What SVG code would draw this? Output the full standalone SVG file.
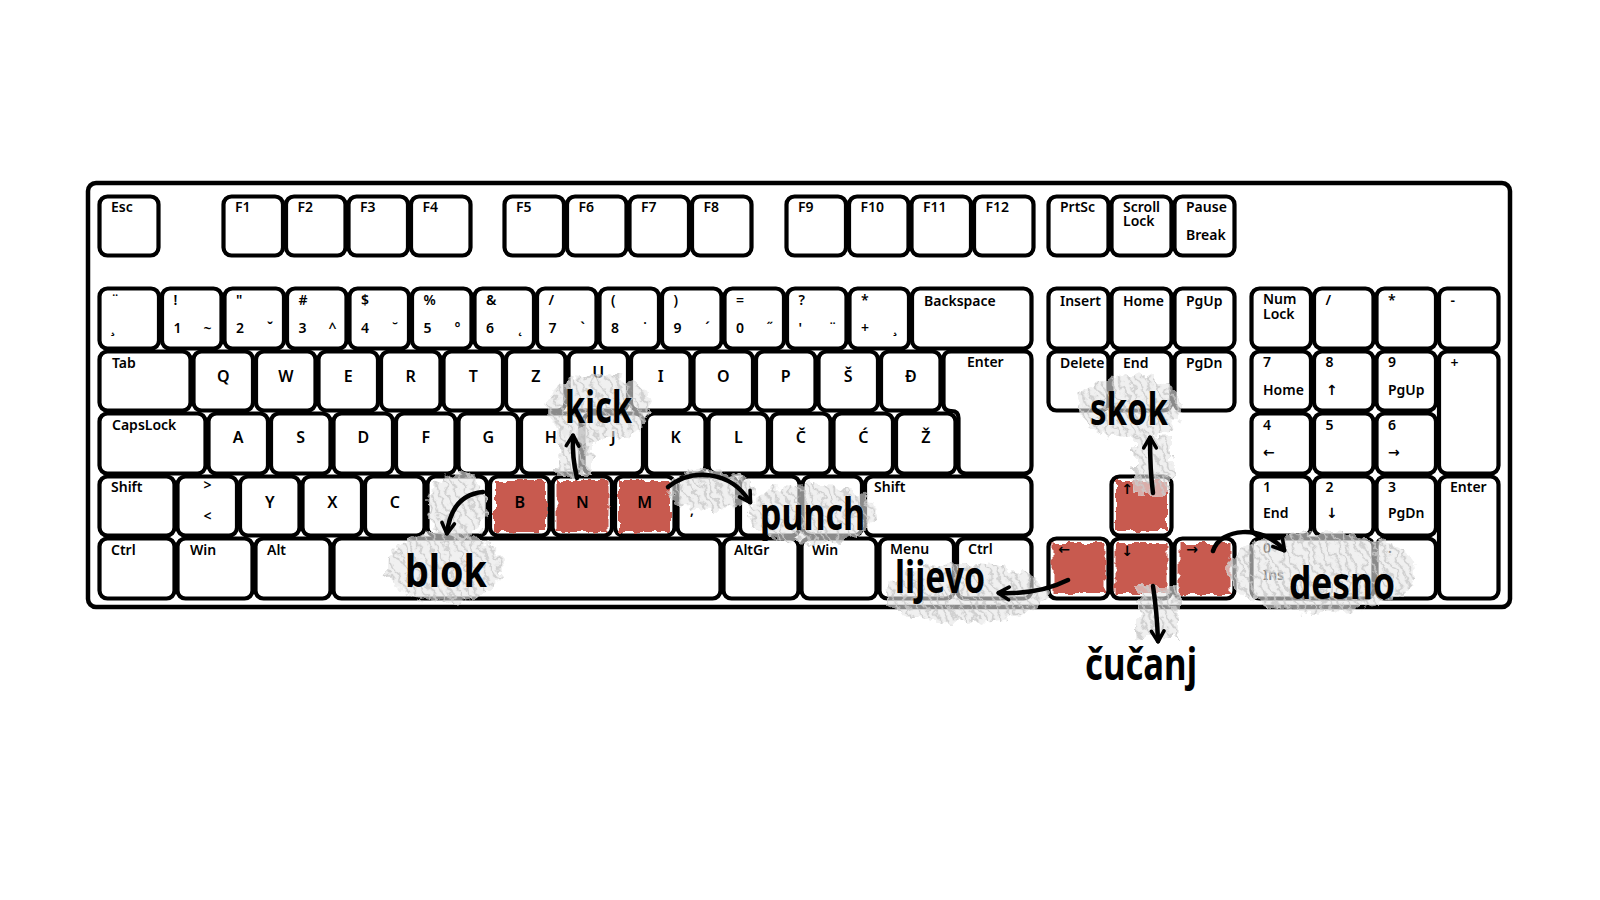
<svg xmlns="http://www.w3.org/2000/svg" width="1600" height="900" viewBox="0 0 1600 900">
<style>
.key{fill:#fff;stroke:#000;stroke-width:4.2;stroke-linejoin:round}
.frame{fill:#fff;stroke:#000;stroke-width:4.5}
.t{font-family:"Noto Sans","DejaVu Sans",sans-serif;font-size:14px;font-weight:600;fill:#000}
.c{text-anchor:middle;font-size:16px}
.m{text-anchor:middle}
.a{font-family:"Noto Sans","DejaVu Sans",sans-serif;font-size:44px;font-weight:700;fill:#000}
.red{fill:#c85a50;filter:url(#rr)}
.hatch{fill:url(#hp);filter:url(#rh)}
.arr{fill:none;stroke:#000;stroke-width:4.5;stroke-linecap:round;marker-end:url(#ah)}
</style>
<defs>
<pattern id="hp" width="8" height="8" patternUnits="userSpaceOnUse" patternTransform="rotate(65)">
<rect width="8" height="8" fill="#e6e6e6" opacity="0.6"/>
<line x1="0" y1="2" x2="8" y2="2" stroke="#c9c9c9" stroke-width="2.5" opacity="0.8"/>
</pattern>
<filter id="rr" x="-20%" y="-20%" width="140%" height="140%">
<feTurbulence type="fractalNoise" baseFrequency="0.12" numOctaves="2" seed="4" result="n"/>
<feDisplacementMap in="SourceGraphic" in2="n" scale="8" xChannelSelector="R" yChannelSelector="G"/>
</filter>
<filter id="rh" x="-20%" y="-20%" width="140%" height="140%">
<feTurbulence type="fractalNoise" baseFrequency="0.09" numOctaves="3" seed="7" result="n"/>
<feDisplacementMap in="SourceGraphic" in2="n" scale="16" xChannelSelector="R" yChannelSelector="G"/>
</filter>
<marker id="ah" viewBox="0 0 20 20" refX="14" refY="10" markerWidth="18" markerHeight="18" markerUnits="userSpaceOnUse" orient="auto">
<path d="M3,3 L15,10 L3,17" fill="none" stroke="#000" stroke-width="4" stroke-linecap="round" stroke-linejoin="round"/>
</marker>
</defs>
<rect width="1600" height="900" fill="#fff"/>
<g id="board"><rect class="frame" x="88" y="183" width="1422" height="424" rx="8"/></g>

<g id="frow">
<g id="k-esc"><rect class="key" x="99.5" y="196.5" width="59" height="59" rx="8"/><text class="t" x="111" y="212">Esc</text></g>
<g id="k-f1"><rect class="key" x="223.5" y="196.5" width="59.5" height="59" rx="8"/><text class="t" x="235" y="212">F1</text></g>
<g id="k-f2"><rect class="key" x="286" y="196.5" width="59.5" height="59" rx="8"/><text class="t" x="297.5" y="212">F2</text></g>
<g id="k-f3"><rect class="key" x="348.5" y="196.5" width="59.5" height="59" rx="8"/><text class="t" x="360" y="212">F3</text></g>
<g id="k-f4"><rect class="key" x="411" y="196.5" width="59.5" height="59" rx="8"/><text class="t" x="422.5" y="212">F4</text></g>
<g id="k-f5"><rect class="key" x="504.5" y="196.5" width="59.5" height="59" rx="8"/><text class="t" x="516" y="212">F5</text></g>
<g id="k-f6"><rect class="key" x="567" y="196.5" width="59.5" height="59" rx="8"/><text class="t" x="578.5" y="212">F6</text></g>
<g id="k-f7"><rect class="key" x="629.5" y="196.5" width="59.5" height="59" rx="8"/><text class="t" x="641" y="212">F7</text></g>
<g id="k-f8"><rect class="key" x="692" y="196.5" width="59.5" height="59" rx="8"/><text class="t" x="703.5" y="212">F8</text></g>
<g id="k-f9"><rect class="key" x="786.5" y="196.5" width="59.5" height="59" rx="8"/><text class="t" x="798" y="212">F9</text></g>
<g id="k-f10"><rect class="key" x="849" y="196.5" width="59.5" height="59" rx="8"/><text class="t" x="860.5" y="212">F10</text></g>
<g id="k-f11"><rect class="key" x="911.5" y="196.5" width="59.5" height="59" rx="8"/><text class="t" x="923" y="212">F11</text></g>
<g id="k-f12"><rect class="key" x="974" y="196.5" width="59.5" height="59" rx="8"/><text class="t" x="985.5" y="212">F12</text></g>
<g id="k-prtsc"><rect class="key" x="1048.5" y="196.5" width="60" height="59" rx="8"/><text class="t" x="1060" y="212">PrtSc</text></g>
<g id="k-scroll"><rect class="key" x="1111.5" y="196.5" width="60" height="59" rx="8"/><text class="t" x="1123" y="212">Scroll</text><text class="t" x="1123" y="226">Lock</text></g>
<g id="k-pause"><rect class="key" x="1174.5" y="196.5" width="60" height="59" rx="8"/><text class="t" x="1186" y="212">Pause</text><text class="t" x="1186" y="240">Break</text></g>
</g>

<g id="numrow">
<g id="k-grave"><rect class="key" x="99.5" y="288.5" width="59.5" height="60" rx="8"/><text class="t" x="111" y="305">¨</text><text class="t" x="111" y="333">¸</text></g>
<g id="k-1"><rect class="key" x="162" y="288.5" width="59.5" height="60" rx="8"/><text class="t" x="173.5" y="305">!</text><text class="t" x="173.5" y="333">1</text><text class="t m" x="207.5" y="333">~</text></g>
<g id="k-2"><rect class="key" x="224.5" y="288.5" width="59.5" height="60" rx="8"/><text class="t" x="236" y="305">"</text><text class="t" x="236" y="333">2</text><text class="t m" x="270" y="333">ˇ</text></g>
<g id="k-3"><rect class="key" x="287" y="288.5" width="59.5" height="60" rx="8"/><text class="t" x="298.5" y="305">#</text><text class="t" x="298.5" y="333">3</text><text class="t m" x="332.5" y="333">^</text></g>
<g id="k-4"><rect class="key" x="349.5" y="288.5" width="59.5" height="60" rx="8"/><text class="t" x="361" y="305">$</text><text class="t" x="361" y="333">4</text><text class="t m" x="395" y="333">˘</text></g>
<g id="k-5"><rect class="key" x="412" y="288.5" width="59.5" height="60" rx="8"/><text class="t" x="423.5" y="305">%</text><text class="t" x="423.5" y="333">5</text><text class="t m" x="457.5" y="333">°</text></g>
<g id="k-6"><rect class="key" x="474.5" y="288.5" width="59.5" height="60" rx="8"/><text class="t" x="486" y="305">&amp;</text><text class="t" x="486" y="333">6</text><text class="t m" x="520" y="333">˛</text></g>
<g id="k-7"><rect class="key" x="537" y="288.5" width="59.5" height="60" rx="8"/><text class="t" x="548.5" y="305">/</text><text class="t" x="548.5" y="333">7</text><text class="t m" x="582.5" y="333">`</text></g>
<g id="k-8"><rect class="key" x="599.5" y="288.5" width="59.5" height="60" rx="8"/><text class="t" x="611" y="305">(</text><text class="t" x="611" y="333">8</text><text class="t m" x="645" y="333">˙</text></g>
<g id="k-9"><rect class="key" x="662" y="288.5" width="59.5" height="60" rx="8"/><text class="t" x="673.5" y="305">)</text><text class="t" x="673.5" y="333">9</text><text class="t m" x="707.5" y="333">´</text></g>
<g id="k-0"><rect class="key" x="724.5" y="288.5" width="59.5" height="60" rx="8"/><text class="t" x="736" y="305">=</text><text class="t" x="736" y="333">0</text><text class="t m" x="770" y="333">˝</text></g>
<g id="k-apos"><rect class="key" x="787" y="288.5" width="59.5" height="60" rx="8"/><text class="t" x="798.5" y="305">?</text><text class="t" x="798.5" y="333">'</text><text class="t m" x="832.5" y="333">¨</text></g>
<g id="k-plus"><rect class="key" x="849.5" y="288.5" width="59.5" height="60" rx="8"/><text class="t" x="861" y="305">*</text><text class="t" x="861" y="333">+</text><text class="t m" x="895" y="333">¸</text></g>
<g id="k-bksp"><rect class="key" x="912" y="288.5" width="119.5" height="60" rx="8"/><text class="t" x="924" y="306">Backspace</text></g>
</g>

<g id="tabrow">
<g id="k-tab"><rect class="key" x="99.5" y="351.5" width="91" height="59" rx="8"/><text class="t" x="112" y="368">Tab</text></g>
<g id="k-q"><rect class="key" x="193.5" y="351.5" width="59.5" height="59" rx="8"/><text class="t c" x="223.25" y="382">Q</text></g>
<g id="k-w"><rect class="key" x="256" y="351.5" width="59.5" height="59" rx="8"/><text class="t c" x="285.75" y="382">W</text></g>
<g id="k-e"><rect class="key" x="318.5" y="351.5" width="59.5" height="59" rx="8"/><text class="t c" x="348.25" y="382">E</text></g>
<g id="k-r"><rect class="key" x="381" y="351.5" width="59.5" height="59" rx="8"/><text class="t c" x="410.75" y="382">R</text></g>
<g id="k-t"><rect class="key" x="443.5" y="351.5" width="59.5" height="59" rx="8"/><text class="t c" x="473.25" y="382">T</text></g>
<g id="k-z"><rect class="key" x="506" y="351.5" width="59.5" height="59" rx="8"/><text class="t c" x="535.75" y="382">Z</text></g>
<g id="k-u"><rect class="key" x="568.5" y="351.5" width="59.5" height="59" rx="8"/><text class="t c" x="598.25" y="378">U</text></g>
<g id="k-i"><rect class="key" x="631" y="351.5" width="59.5" height="59" rx="8"/><text class="t c" x="660.75" y="382">I</text></g>
<g id="k-o"><rect class="key" x="693.5" y="351.5" width="59.5" height="59" rx="8"/><text class="t c" x="723.25" y="382">O</text></g>
<g id="k-p"><rect class="key" x="756" y="351.5" width="59.5" height="59" rx="8"/><text class="t c" x="785.75" y="382">P</text></g>
<g id="k-sh"><rect class="key" x="818.5" y="351.5" width="59.5" height="59" rx="8"/><text class="t c" x="848.25" y="382">Š</text></g>
<g id="k-dj"><rect class="key" x="881" y="351.5" width="59.5" height="59" rx="8"/><text class="t c" x="910.75" y="382">Đ</text></g>
<g id="k-enter"><path class="key" d="M951,351.5 H1024 Q1031.5,351.5 1031.5,359 V466 Q1031.5,473.5 1024,473.5 H966 Q958.5,473.5 958.5,466 V418 Q958.5,411 951.5,411 H951 Q943.5,411 943.5,403.5 V359 Q943.5,351.5 951,351.5 Z"/><text class="t" x="967" y="367">Enter</text></g>
</g>

<g id="capsrow">
<g id="k-caps"><rect class="key" x="99.5" y="413.5" width="106" height="60" rx="8"/><text class="t" x="112" y="430">CapsLock</text></g>
<g id="k-a"><rect class="key" x="208.5" y="413.5" width="59.5" height="60" rx="8"/><text class="t c" x="238.25" y="443">A</text></g>
<g id="k-s"><rect class="key" x="271" y="413.5" width="59.5" height="60" rx="8"/><text class="t c" x="300.75" y="443">S</text></g>
<g id="k-d"><rect class="key" x="333.5" y="413.5" width="59.5" height="60" rx="8"/><text class="t c" x="363.25" y="443">D</text></g>
<g id="k-f"><rect class="key" x="396" y="413.5" width="59.5" height="60" rx="8"/><text class="t c" x="425.75" y="443">F</text></g>
<g id="k-g"><rect class="key" x="458.5" y="413.5" width="59.5" height="60" rx="8"/><text class="t c" x="488.25" y="443">G</text></g>
<g id="k-h"><rect class="key" x="521" y="413.5" width="59.5" height="60" rx="8"/><text class="t c" x="550.75" y="443">H</text></g>
<g id="k-j"><rect class="key" x="583.5" y="413.5" width="59.5" height="60" rx="8"/><text class="t c" x="613.25" y="443">J</text></g>
<g id="k-k"><rect class="key" x="646" y="413.5" width="59.5" height="60" rx="8"/><text class="t c" x="675.75" y="443">K</text></g>
<g id="k-l"><rect class="key" x="708.5" y="413.5" width="59.5" height="60" rx="8"/><text class="t c" x="738.25" y="443">L</text></g>
<g id="k-ch"><rect class="key" x="771" y="413.5" width="59.5" height="60" rx="8"/><text class="t c" x="800.75" y="443">Č</text></g>
<g id="k-cj"><rect class="key" x="833.5" y="413.5" width="59.5" height="60" rx="8"/><text class="t c" x="863.25" y="443">Ć</text></g>
<g id="k-zh"><rect class="key" x="896" y="413.5" width="59.5" height="60" rx="8"/><text class="t c" x="925.75" y="443">Ž</text></g>
</g>

<g id="shiftrow">
<g id="k-lshift"><rect class="key" x="99.5" y="476.5" width="75" height="59" rx="8"/><text class="t" x="111" y="492">Shift</text></g>
<g id="k-lt"><rect class="key" x="177.5" y="476.5" width="59.5" height="59" rx="8"/><text class="t m" x="207.5" y="490">&gt;</text><text class="t m" x="207.5" y="521">&lt;</text></g>
<g id="k-y"><rect class="key" x="240" y="476.5" width="59.5" height="59" rx="8"/><text class="t c" x="269.75" y="508">Y</text></g>
<g id="k-x"><rect class="key" x="302.5" y="476.5" width="59.5" height="59" rx="8"/><text class="t c" x="332.25" y="508">X</text></g>
<g id="k-c"><rect class="key" x="365" y="476.5" width="59.5" height="59" rx="8"/><text class="t c" x="394.75" y="508">C</text></g>
<g id="k-v"><rect class="key" x="427.5" y="476.5" width="59.5" height="59" rx="8"/></g>
<g id="k-b"><rect class="key" x="490" y="476.5" width="59.5" height="59" rx="8"/><rect class="red" x="494" y="481" width="52" height="51"/><text class="t c" x="519.75" y="508">B</text></g>
<g id="k-n"><rect class="key" x="552.5" y="476.5" width="59.5" height="59" rx="8"/><rect class="red" x="556.5" y="481" width="52" height="51"/><text class="t c" x="582.25" y="508">N</text></g>
<g id="k-m"><rect class="key" x="615" y="476.5" width="59.5" height="59" rx="8"/><rect class="red" x="619" y="481" width="52" height="51"/><text class="t c" x="644.75" y="508">M</text></g>
<g id="k-comma"><rect class="key" x="677.5" y="476.5" width="59.5" height="59" rx="8"/><text class="t" x="690" y="515">,</text></g>
<g id="k-dot"><rect class="key" x="740" y="476.5" width="59.5" height="59" rx="8"/></g>
<g id="k-minus"><rect class="key" x="802.5" y="476.5" width="59.5" height="59" rx="8"/></g>
<g id="k-rshift"><rect class="key" x="865" y="476.5" width="166.5" height="59" rx="8"/><text class="t" x="874" y="492">Shift</text></g>
</g>

<g id="ctrlrow">
<g id="k-lctrl"><rect class="key" x="99.5" y="538.5" width="75" height="60" rx="8"/><text class="t" x="111" y="555">Ctrl</text></g>
<g id="k-lwin"><rect class="key" x="177.5" y="538.5" width="75" height="60" rx="8"/><text class="t" x="190" y="555">Win</text></g>
<g id="k-alt"><rect class="key" x="255.5" y="538.5" width="75" height="60" rx="8"/><text class="t" x="267" y="555">Alt</text></g>
<g id="k-space"><rect class="key" x="333.5" y="538.5" width="387" height="60" rx="8"/></g>
<g id="k-altgr"><rect class="key" x="723.5" y="538.5" width="75" height="60" rx="8"/><text class="t" x="734" y="555">AltGr</text></g>
<g id="k-rwin"><rect class="key" x="801.5" y="538.5" width="75" height="60" rx="8"/><text class="t" x="812" y="555">Win</text></g>
<g id="k-menu"><rect class="key" x="879.5" y="538.5" width="74.5" height="60" rx="8"/><text class="t" x="890" y="554">Menu</text></g>
<g id="k-rctrl"><rect class="key" x="957" y="538.5" width="74.5" height="60" rx="8"/><text class="t" x="968" y="554">Ctrl</text></g>
</g>

<g id="nav">
<g id="k-ins"><rect class="key" x="1048.5" y="288.5" width="60" height="60" rx="8"/><text class="t" x="1060" y="306">Insert</text></g>
<g id="k-home"><rect class="key" x="1111.5" y="288.5" width="60" height="60" rx="8"/><text class="t" x="1123" y="306">Home</text></g>
<g id="k-pgup"><rect class="key" x="1174.5" y="288.5" width="60" height="60" rx="8"/><text class="t" x="1186" y="306">PgUp</text></g>
<g id="k-del"><rect class="key" x="1048.5" y="351.5" width="60" height="59" rx="8"/><text class="t" x="1060" y="368">Delete</text></g>
<g id="k-end"><rect class="key" x="1111.5" y="351.5" width="60" height="59" rx="8"/><text class="t" x="1123" y="368">End</text></g>
<g id="k-pgdn"><rect class="key" x="1174.5" y="351.5" width="60" height="59" rx="8"/><text class="t" x="1186" y="368">PgDn</text></g>
<g id="k-up"><rect class="key" x="1111.5" y="476.5" width="60" height="59" rx="8"/><rect class="red" x="1116" y="481" width="51" height="50"/><text class="t m" x="1127" y="494">↑</text></g>
<g id="k-left"><rect class="key" x="1048.5" y="538.5" width="60" height="60" rx="8"/><rect class="red" x="1052.5" y="543" width="52" height="51"/><text class="t m" x="1064" y="554">←</text></g>
<g id="k-down"><rect class="key" x="1111.5" y="538.5" width="60" height="60" rx="8"/><rect class="red" x="1115.5" y="543" width="52" height="51"/><text class="t m" x="1127" y="556">↓</text></g>
<g id="k-right"><rect class="key" x="1174.5" y="538.5" width="60" height="60" rx="8"/><rect class="red" x="1178.5" y="543" width="52" height="51"/><text class="t m" x="1192" y="554">→</text></g>
</g>

<g id="numpad">
<g id="k-numlock"><rect class="key" x="1251.5" y="288.5" width="59.5" height="60" rx="8"/><text class="t" x="1263" y="304">Num</text><text class="t" x="1263" y="319">Lock</text></g>
<g id="k-ndiv"><rect class="key" x="1314" y="288.5" width="59.5" height="60" rx="8"/><text class="t" x="1325.5" y="305">/</text></g>
<g id="k-nmul"><rect class="key" x="1376.5" y="288.5" width="59.5" height="60" rx="8"/><text class="t" x="1388" y="305">*</text></g>
<g id="k-nsub"><rect class="key" x="1439" y="288.5" width="59.5" height="60" rx="8"/><text class="t" x="1450.5" y="305">-</text></g>
<g id="k-n7"><rect class="key" x="1251.5" y="351.5" width="59.5" height="59" rx="8"/><text class="t" x="1263" y="367">7</text><text class="t" x="1263" y="395">Home</text></g>
<g id="k-n8"><rect class="key" x="1314" y="351.5" width="59.5" height="59" rx="8"/><text class="t" x="1325.5" y="367">8</text><text class="t" x="1326" y="395">↑</text></g>
<g id="k-n9"><rect class="key" x="1376.5" y="351.5" width="59.5" height="59" rx="8"/><text class="t" x="1388" y="367">9</text><text class="t" x="1388" y="395">PgUp</text></g>
<g id="k-nadd"><rect class="key" x="1439" y="351.5" width="59.5" height="122" rx="8"/><text class="t" x="1450.5" y="368">+</text></g>
<g id="k-n4"><rect class="key" x="1251.5" y="413.5" width="59.5" height="60" rx="8"/><text class="t" x="1263" y="430">4</text><text class="t" x="1263" y="457">←</text></g>
<g id="k-n5"><rect class="key" x="1314" y="413.5" width="59.5" height="60" rx="8"/><text class="t" x="1325.5" y="430">5</text></g>
<g id="k-n6"><rect class="key" x="1376.5" y="413.5" width="59.5" height="60" rx="8"/><text class="t" x="1388" y="430">6</text><text class="t" x="1388" y="457">→</text></g>
<g id="k-n1"><rect class="key" x="1251.5" y="476.5" width="59.5" height="59" rx="8"/><text class="t" x="1263" y="492">1</text><text class="t" x="1263" y="518">End</text></g>
<g id="k-n2"><rect class="key" x="1314" y="476.5" width="59.5" height="59" rx="8"/><text class="t" x="1325.5" y="492">2</text><text class="t" x="1326" y="518">↓</text></g>
<g id="k-n3"><rect class="key" x="1376.5" y="476.5" width="59.5" height="59" rx="8"/><text class="t" x="1388" y="492">3</text><text class="t" x="1388" y="518">PgDn</text></g>
<g id="k-nenter"><rect class="key" x="1439" y="476.5" width="59.5" height="122" rx="8"/><text class="t" x="1450" y="492">Enter</text></g>
<g id="k-n0"><rect class="key" x="1251.5" y="538.5" width="122" height="60" rx="8"/><text class="t" x="1263" y="553">0</text><text class="t" x="1263" y="580">Ins</text></g>
<g id="k-ndot"><rect class="key" x="1376.5" y="538.5" width="59.5" height="60" rx="8"/><text class="t" x="1388" y="553">.</text></g>
</g>

<g id="hatches">
<ellipse class="hatch" cx="598" cy="408" rx="52" ry="34"/>
<rect class="hatch" x="558" y="430" width="34" height="46"/>
<ellipse class="hatch" cx="812" cy="514" rx="64" ry="30"/>
<ellipse class="hatch" cx="712" cy="490" rx="44" ry="20"/>
<ellipse class="hatch" cx="445" cy="567" rx="58" ry="35"/>
<ellipse class="hatch" cx="458" cy="506" rx="30" ry="32"/>
<ellipse class="hatch" cx="1130" cy="407" rx="52" ry="32"/>
<rect class="hatch" x="1134" y="436" width="38" height="58"/>
<ellipse class="hatch" cx="965" cy="593" rx="82" ry="30"/>
<ellipse class="hatch" cx="1322" cy="572" rx="95" ry="40"/>
<rect class="hatch" x="1137" y="585" width="42" height="52"/>
</g>

<g id="connectors">
<path class="arr" d="M577,478 Q572,458 573,436"/>
<path class="arr" d="M668,487 C692,468 730,470 750,502"/>
<path class="arr" d="M483,492 C462,494 450,508 447,533"/>
<path class="arr" d="M1153,493 Q1150,470 1150,438"/>
<path class="arr" d="M1068,580 C1048,590 1024,594 999,593"/>
<path class="arr" d="M1213,551 C1220,528 1262,524 1284,550"/>
<path class="arr" d="M1153,586 Q1157,612 1158,641"/>
</g>

<g id="lbl-kick"><text class="a" x="565" y="423" textLength="67" lengthAdjust="spacingAndGlyphs">kick</text></g>
<g id="lbl-punch"><text class="a" x="760" y="530" textLength="105" lengthAdjust="spacingAndGlyphs">punch</text></g>
<g id="lbl-blok"><text class="a" x="405" y="587" textLength="82" lengthAdjust="spacingAndGlyphs">blok</text></g>
<g id="lbl-skok"><text class="a" x="1090" y="425" textLength="78" lengthAdjust="spacingAndGlyphs">skok</text></g>
<g id="lbl-lijevo"><text class="a" x="895" y="593" textLength="90" lengthAdjust="spacingAndGlyphs">lijevo</text></g>
<g id="lbl-desno"><text class="a" x="1289" y="599" textLength="106" lengthAdjust="spacingAndGlyphs">desno</text></g>
<g id="lbl-cucanj"><text class="a" x="1085" y="680" textLength="112" lengthAdjust="spacingAndGlyphs">čučanj</text></g>
</svg>
